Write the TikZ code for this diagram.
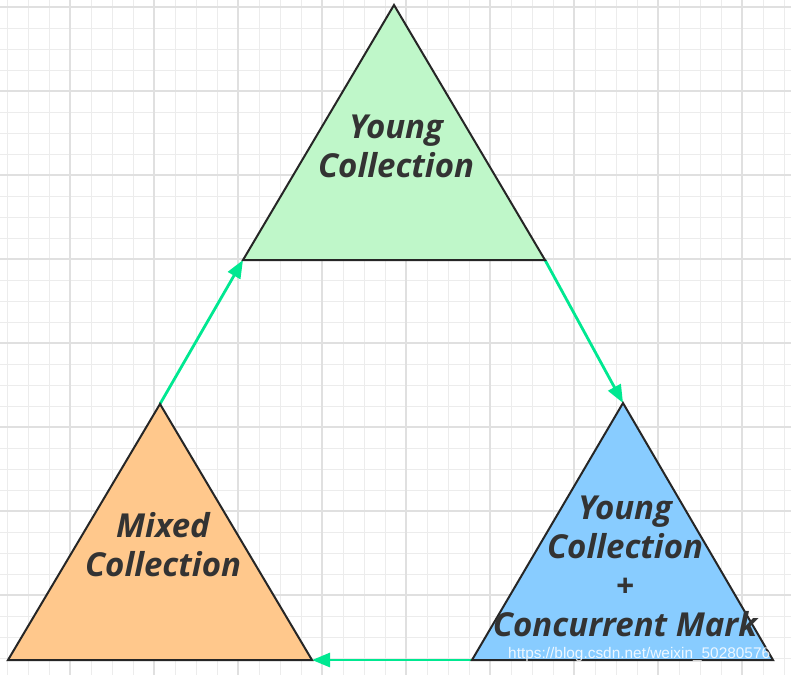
\documentclass[tikz,border=0pt]{standalone}
\usepackage{fontspec}
\setmainfont{Open Sans}
\newfontfamily\wmfont{Liberation Sans}
\definecolor{gcgreen}{RGB}{191,247,201}
\definecolor{gcblue}{RGB}{136,204,255}
\definecolor{gcorange}{RGB}{255,200,140}
\definecolor{gcarrow}{RGB}{0,232,145}
\definecolor{gcgrid}{RGB}{236,236,236}
\definecolor{gcmajor}{RGB}{224,224,224}
\definecolor{gctext}{RGB}{51,51,51}
\usetikzlibrary{arrows.meta,positioning}

\begin{document}
\begin{tikzpicture}[x=1pt, y=-1pt,
  lbl/.style={font=\fontsize{33}{39}\selectfont\bfseries\itshape, text=gctext, align=center, inner sep=0pt},
  tri/.style={draw=black!85, line width=2pt, line join=miter},
  flow/.style={draw=gcarrow, line width=2.8pt, -{Triangle[length=18pt,width=14pt]}}]
% Canvas and grid
\useasboundingbox (0,0) rectangle (791,675);
\fill[white] (0,0) rectangle (791,675);
\foreach \i in {7,28,...,790} \draw[gcgrid, line width=1pt] (\i,0) -- (\i,675);
\foreach \j in {7,28,...,675} \draw[gcgrid, line width=1pt] (0,\j) -- (791,\j);
\foreach \i in {70,154,...,790} \draw[gcmajor, line width=1.2pt] (\i,0) -- (\i,675);
\foreach \j in {7,91,...,675} \draw[gcmajor, line width=1.2pt] (0,\j) -- (791,\j);
% Triangle corners
\coordinate (yApex) at (394,5);
\coordinate (yLeft) at (243,260);
\coordinate (yRight) at (545,260);
\coordinate (cApex) at (623,403);
\coordinate (cLeft) at (472,660);
\coordinate (cRight) at (773,660);
\coordinate (mApex) at (160,404);
\coordinate (mLeft) at (8,660);
\coordinate (mRight) at (312,660);
% Cycle arrows
\draw[flow] (mApex) -- (yLeft);
\draw[flow] (yRight) -- (cApex);
\draw[flow] (cLeft) -- (mRight);
% Phases
\filldraw[tri, fill=gcgreen] (yApex) -- (yRight) -- (yLeft) -- cycle;
\filldraw[tri, fill=gcblue] (cApex) -- (cRight) -- (cLeft) -- cycle;
\filldraw[tri, fill=gcorange] (mApex) -- (mRight) -- (mLeft) -- cycle;
\node[lbl] (youngTxt) at (396,146) {Young\\Collection};
\node[lbl] (mixedTxt) at (163,545) {Mixed\\Collection};
\node[lbl] (concTxt) at (625,566) {Young\\Collection\\+\\Concurrent Mark};
% Watermark
\node[font=\wmfont\fontsize{15.4}{15.4}\selectfont, text=white, opacity=0.85, anchor=west, inner sep=0pt] (mark) at (508,655) {https://blog.csdn.net/weixin\_50280576};
\end{tikzpicture}
\end{document}
